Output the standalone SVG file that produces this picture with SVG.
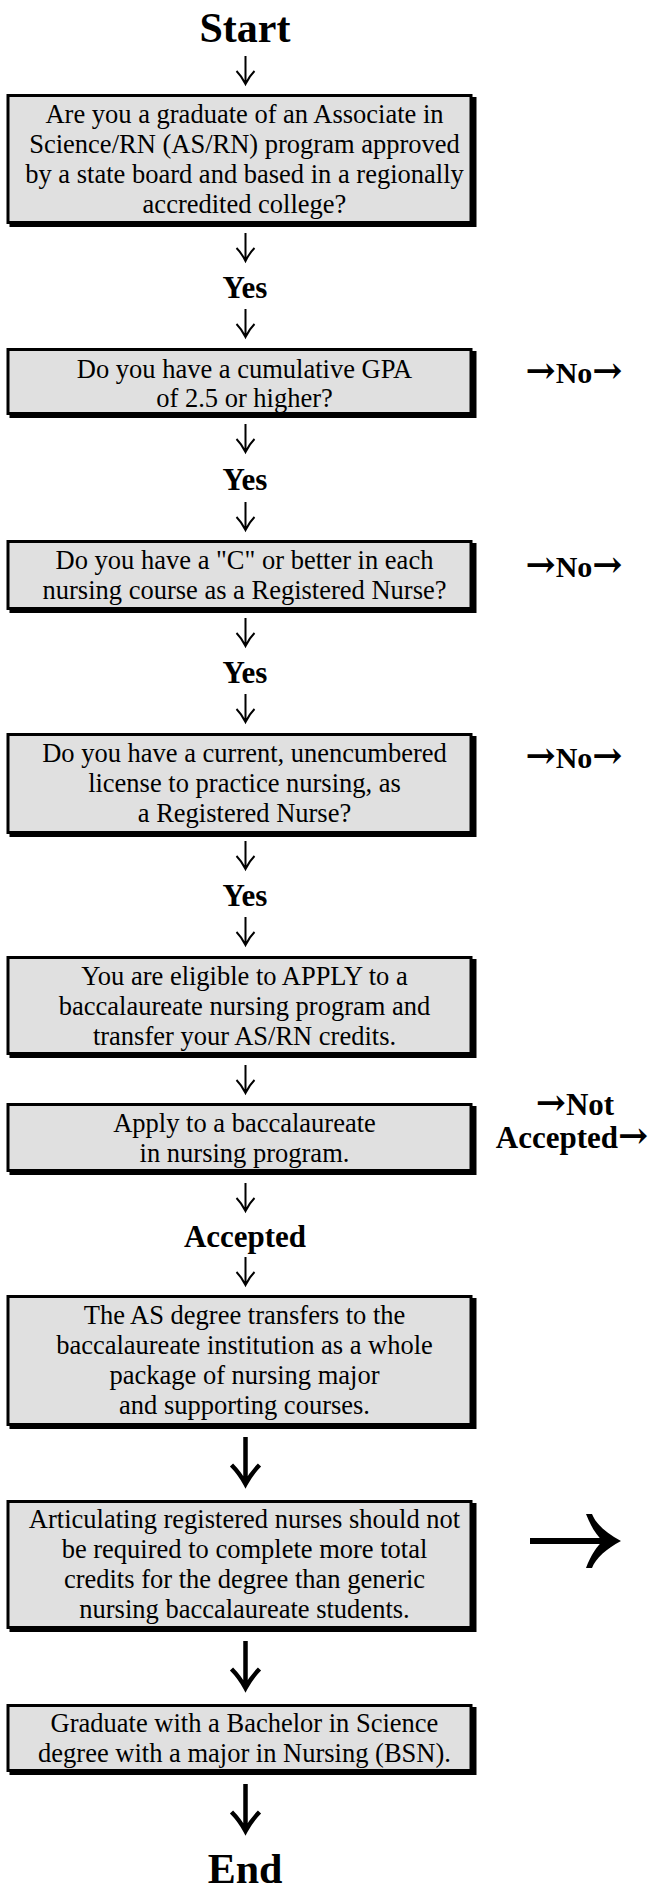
<svg xmlns="http://www.w3.org/2000/svg" width="653" height="1892" viewBox="0 0 653 1892">
<style>
.bg{fill:#ffffff}
.sh{fill:#000000}
.box{fill:#e0e0e0;stroke:#000000;stroke-width:3}
.t{font-family:"Liberation Serif","Times New Roman",serif;font-size:26.5px;fill:#000000;text-anchor:middle}
.b{font-family:"Liberation Serif","Times New Roman",serif;font-weight:bold;fill:#000000;text-anchor:middle}
.ar{font-family:"DejaVu Serif",serif;font-weight:bold;font-size:36px}
.s{fill:none;stroke:#000000;stroke-width:2;stroke-linecap:butt}
.sb{fill:none;stroke:#000000;stroke-width:4.5}
</style>
<defs>
<path id="sa" d="M0,0 V27 M-9,15 Q-4,20 0,28 Q4,20 9,15" />
<path id="ba" d="M0,0 V46 M-14,28 Q-6,36 0,47 Q6,36 14,28" />
</defs>
<rect class="bg" x="0" y="0" width="653" height="1892"/>

<g id="connectors">
<use href="#sa" class="s" x="245.5" y="56"/>
<use href="#sa" class="s" x="245.5" y="233"/>
<use href="#sa" class="s" x="245.5" y="309"/>
<use href="#sa" class="s" x="245.5" y="424"/>
<use href="#sa" class="s" x="245.5" y="502"/>
<use href="#sa" class="s" x="245.5" y="618"/>
<use href="#sa" class="s" x="245.5" y="694"/>
<use href="#sa" class="s" x="245.5" y="841"/>
<use href="#sa" class="s" x="245.5" y="917"/>
<use href="#sa" class="s" x="245.5" y="1065"/>
<use href="#sa" class="s" x="245.5" y="1183"/>
<use href="#sa" class="s" x="245.5" y="1257"/>
<use href="#ba" class="sb" x="245.5" y="1437"/>
<use href="#ba" class="sb" x="245.5" y="1641"/>
<use href="#ba" class="sb" x="245.5" y="1784"/>
<path d="M530,1541 H608" stroke="#000" stroke-width="6" fill="none"/>
<path d="M621,1541 C606,1533 596,1524 592,1514 L586,1514 C591,1527 597,1536 603,1541 C597,1546 591,1555 586,1568 L592,1568 C596,1558 606,1549 621,1541 Z" fill="#000"/>
</g>

<g id="start"><text class="b" font-size="42" x="245" y="42">Start</text></g>

<g id="n1">
<rect class="sh" x="9.5" y="97" width="467" height="130"/>
<rect class="box" x="8" y="95.5" width="463" height="127"/>
<text class="t"><tspan x="244.5" y="122.5">Are you a graduate of an Associate in</tspan><tspan x="244.5" y="152.5">Science/RN (AS/RN) program approved</tspan><tspan x="244.5" y="182.5">by a state board and based in a regionally</tspan><tspan x="244.5" y="212.5">accredited college?</tspan></text>
</g>
<g id="yes1"><text class="b" font-size="31" x="245" y="298">Yes</text></g>

<g id="n2">
<rect class="sh" x="9.5" y="351" width="467" height="67"/>
<rect class="box" x="8" y="349.5" width="463" height="64"/>
<text class="t"><tspan x="244.5" y="378">Do you have a cumulative GPA</tspan><tspan x="244.5" y="407">of 2.5 or higher?</tspan></text>
</g>
<g id="no1"><text class="b" font-size="30" x="574" y="383"><tspan class="ar">→</tspan>No<tspan class="ar">→</tspan></text></g>
<g id="yes2"><text class="b" font-size="31" x="245" y="490">Yes</text></g>

<g id="n3">
<rect class="sh" x="9.5" y="543" width="467" height="70"/>
<rect class="box" x="8" y="541.5" width="463" height="67"/>
<text class="t"><tspan x="244.5" y="569">Do you have a "C" or better in each</tspan><tspan x="244.5" y="599">nursing course as a Registered Nurse?</tspan></text>
</g>
<g id="no2"><text class="b" font-size="30" x="574" y="577"><tspan class="ar">→</tspan>No<tspan class="ar">→</tspan></text></g>
<g id="yes3"><text class="b" font-size="31" x="245" y="683">Yes</text></g>

<g id="n4">
<rect class="sh" x="9.5" y="736" width="467" height="101"/>
<rect class="box" x="8" y="734.5" width="463" height="98"/>
<text class="t"><tspan x="244.5" y="762">Do you have a current, unencumbered</tspan><tspan x="244.5" y="792">license to practice nursing, as</tspan><tspan x="244.5" y="822">a Registered Nurse?</tspan></text>
</g>
<g id="no3"><text class="b" font-size="30" x="574" y="768"><tspan class="ar">→</tspan>No<tspan class="ar">→</tspan></text></g>
<g id="yes4"><text class="b" font-size="31" x="245" y="906">Yes</text></g>

<g id="n5">
<rect class="sh" x="9.5" y="959" width="467" height="99"/>
<rect class="box" x="8" y="957.5" width="463" height="96"/>
<text class="t"><tspan x="244.5" y="985">You are eligible to APPLY to a</tspan><tspan x="244.5" y="1015">baccalaureate nursing program and</tspan><tspan x="244.5" y="1045">transfer your AS/RN credits.</tspan></text>
</g>

<g id="n6">
<rect class="sh" x="9.5" y="1106" width="467" height="69"/>
<rect class="box" x="8" y="1104.5" width="463" height="66"/>
<text class="t"><tspan x="244.5" y="1132">Apply to a baccalaureate</tspan><tspan x="244.5" y="1162">in nursing program.</tspan></text>
</g>
<g id="notacc"><text class="b" font-size="31"><tspan x="575" y="1115"><tspan class="ar">→</tspan>Not</tspan><tspan x="572" y="1148">Accepted<tspan class="ar">→</tspan></tspan></text></g>
<g id="acc"><text class="b" font-size="31" x="245" y="1247">Accepted</text></g>

<g id="n7">
<rect class="sh" x="9.5" y="1298" width="467" height="131"/>
<rect class="box" x="8" y="1296.5" width="463" height="128"/>
<text class="t"><tspan x="244.5" y="1324">The AS degree transfers to the</tspan><tspan x="244.5" y="1354">baccalaureate institution as a whole</tspan><tspan x="244.5" y="1384">package of nursing major</tspan><tspan x="244.5" y="1414">and supporting courses.</tspan></text>
</g>

<g id="n8">
<rect class="sh" x="9.5" y="1503" width="467" height="129"/>
<rect class="box" x="8" y="1501.5" width="463" height="126"/>
<text class="t"><tspan x="244.5" y="1528">Articulating registered nurses should not</tspan><tspan x="244.5" y="1558">be required to complete more total</tspan><tspan x="244.5" y="1588">credits for the degree than generic</tspan><tspan x="244.5" y="1618">nursing baccalaureate students.</tspan></text>
</g>

<g id="n9">
<rect class="sh" x="9.5" y="1707" width="467" height="68"/>
<rect class="box" x="8" y="1705.5" width="463" height="65"/>
<text class="t"><tspan x="244.5" y="1732">Graduate with a Bachelor in Science</tspan><tspan x="244.5" y="1762">degree with a major in Nursing (BSN).</tspan></text>
</g>

<g id="end"><text class="b" font-size="42" x="245" y="1883">End</text></g>
</svg>
